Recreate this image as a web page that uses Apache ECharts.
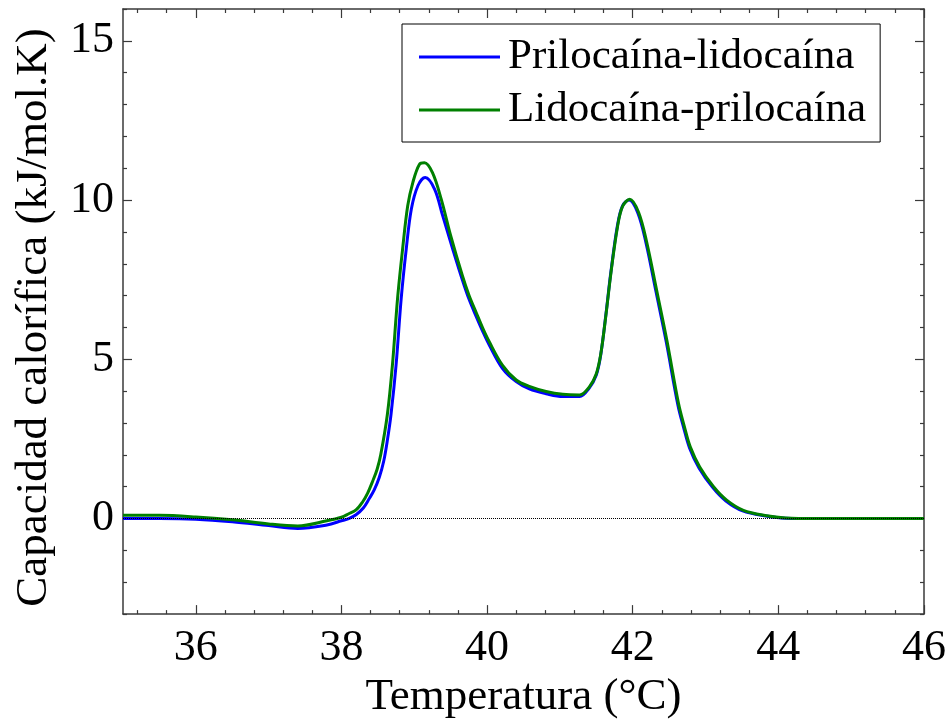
<!DOCTYPE html>
<html>
<head>
<meta charset="utf-8">
<script src="https://cdn.jsdelivr.net/npm/echarts@6/dist/echarts.min.js"></script>
<style>html,body{margin:0;padding:0;background:#fff}#c{width:951px;height:725px}</style>
</head>
<body>
<div id="c"></div>
<script>
const seriesNames = ['Prilocaína-lidocaína', 'Lidocaína-prilocaína'];
const tempBlue = [35.0, 35.5, 36.0, 36.5, 37.0, 37.4, 37.8, 38.0, 38.1, 38.2, 38.3, 38.38, 38.45, 38.52, 38.58, 38.63, 38.68, 38.75, 38.82, 38.89, 38.96, 39.05, 39.15, 39.28, 39.39, 39.53, 39.66, 39.75, 39.85, 39.94, 40.03, 40.21, 40.4, 40.58, 40.81, 41.04, 41.27, 41.4, 41.5, 41.56, 41.63, 41.7, 41.79, 41.86, 41.95, 42.07, 42.18, 42.32, 42.46, 42.62, 42.7, 42.78, 42.91, 43.1, 43.28, 43.51, 43.83, 44.1, 44.5, 45.0, 45.5, 46.0];
const cpBlue = [0.0, 0.0, -0.02, -0.1, -0.22, -0.31, -0.2, -0.07, 0.0, 0.12, 0.33, 0.62, 0.9, 1.3, 1.8, 2.45, 3.26, 4.82, 6.9, 8.47, 9.72, 10.45, 10.71, 10.34, 9.51, 8.45, 7.5, 6.9, 6.35, 5.88, 5.45, 4.72, 4.3, 4.07, 3.92, 3.83, 3.83, 4.09, 4.51, 5.13, 6.38, 7.74, 9.2, 9.82, 10.0, 9.6, 8.68, 7.12, 5.55, 3.57, 2.85, 2.22, 1.59, 0.97, 0.55, 0.24, 0.08, 0.01, 0.0, 0.0, 0.0, 0.0];
const tempGreen = [35.0, 35.5, 36.0, 36.5, 37.0, 37.4, 37.8, 38.0, 38.1, 38.2, 38.29, 38.36, 38.43, 38.49, 38.54, 38.63, 38.7, 38.77, 38.84, 38.91, 38.98, 39.07, 39.14, 39.25, 39.37, 39.5, 39.66, 39.75, 39.85, 39.94, 40.03, 40.21, 40.4, 40.58, 40.81, 41.04, 41.27, 41.4, 41.5, 41.56, 41.63, 41.7, 41.79, 41.86, 41.96, 42.08, 42.19, 42.33, 42.47, 42.63, 42.71, 42.79, 42.92, 43.11, 43.29, 43.52, 43.84, 44.1, 44.5, 45.0, 45.5, 46.0];
const cpGreen = [0.1, 0.1, 0.05, -0.04, -0.17, -0.23, -0.07, 0.04, 0.15, 0.27, 0.52, 0.8, 1.18, 1.55, 2.01, 3.26, 4.82, 6.9, 8.47, 9.82, 10.55, 11.12, 11.17, 10.86, 10.03, 8.88, 7.63, 7.02, 6.47, 5.98, 5.55, 4.82, 4.35, 4.15, 3.99, 3.9, 3.88, 4.12, 4.55, 5.15, 6.35, 7.7, 9.15, 9.8, 10.03, 9.62, 8.7, 7.15, 5.58, 3.6, 2.88, 2.25, 1.62, 1.0, 0.58, 0.26, 0.09, 0.02, 0.0, 0.0, 0.0, 0.0];
const xMajorTicks = [36, 38, 40, 42, 44, 46];
const xMinorTicks = [35.2, 35.6, 36.4, 36.8, 37.2, 37.6, 38.4, 38.8, 39.2, 39.6, 40.4, 40.8, 41.2, 41.6, 42.4, 42.8, 43.2, 43.6, 44.4, 44.8, 45.2, 45.6];
const yMajorTicks = [0, 5, 10, 15];
const yMinorTicks = [-3, -2, -1, 1, 2, 3, 4, 6, 7, 8, 9, 11, 12, 13, 14, 16];

const FONT = 'Liberation Serif';
const AX = '#3a3a3a';
const X_MIN = 35, X_MAX = 46, Y_MIN = -3, Y_MAX = 16;

function xAx(pos, ticks, len, main) {
  return {
    type: 'value', position: pos, min: X_MIN, max: X_MAX,
    name: main ? 'Temperatura (°C)' : '', nameLocation: 'middle', nameGap: 51,
    nameTextStyle: { fontFamily: FONT, fontSize: 45, color: '#000' },
    axisLine: { show: main !== null, onZero: false, lineStyle: { color: AX, width: 1.5 } },
    axisTick: { show: true, inside: true, length: len, customValues: ticks, lineStyle: { color: AX, width: 1.2 } },
    axisLabel: main ? { show: true, customValues: xMajorTicks, margin: 12, fontFamily: FONT, fontSize: 44, color: '#000' } : { show: false },
    splitLine: { show: false }
  };
}
function yAx(pos, ticks, len, main) {
  return {
    type: 'value', position: pos, min: Y_MIN, max: Y_MAX,
    name: main ? 'Capacidad calorífica (kJ/mol.K)' : '', nameLocation: 'middle', nameGap: 66,
    nameTextStyle: { fontFamily: FONT, fontSize: 45, color: '#000', padding: [0, 12, 0, 0] },
    axisLine: { show: main !== null, onZero: false, lineStyle: { color: AX, width: 1.5 } },
    axisTick: { show: true, inside: true, length: len, customValues: ticks, lineStyle: { color: AX, width: 1.2 } },
    axisLabel: main ? { show: true, customValues: yMajorTicks, margin: 9, fontFamily: FONT, fontSize: 44, color: '#000' } : { show: false },
    splitLine: { show: false }
  };
}

const chart = echarts.init(document.getElementById('c'), null, { renderer: 'canvas' });
chart.setOption({
  animation: false,
  backgroundColor: '#fff',
  grid: { left: 123, right: 27, top: 9, bottom: 107, containLabel: false },
  legend: {
    orient: 'vertical', left: 402, top: 24,
    padding: [11, 14, 10, 17], itemGap: 9,
    borderColor: '#000', borderWidth: 1, backgroundColor: '#fff',
    icon: 'rect', itemWidth: 81, itemHeight: 3,
    textStyle: { fontFamily: FONT, fontSize: 43, lineHeight: 44, color: '#000', padding: [0, 0, 0, 3] },
    data: seriesNames
  },
  xAxis: [
    xAx('bottom', xMajorTicks, 9, true),
    xAx('bottom', xMinorTicks, 4, null),
    xAx('top', xMajorTicks, 9, false),
    xAx('top', xMinorTicks, 4, null)
  ],
  yAxis: [
    yAx('left', yMajorTicks, 9, true),
    yAx('left', yMinorTicks, 4, null),
    yAx('right', yMajorTicks, 9, false),
    yAx('right', yMinorTicks, 4, null)
  ],
  series: [
    {
      name: seriesNames[0], type: 'line', xAxisIndex: 0, yAxisIndex: 0,
      data: tempBlue.map((t, i) => [t, cpBlue[i]]),
      showSymbol: false, smooth: 0.35, color: '#0000ff',
      lineStyle: { width: 3, color: '#0000ff' }, z: 3
    },
    {
      name: seriesNames[1], type: 'line', xAxisIndex: 0, yAxisIndex: 0,
      data: tempGreen.map((t, i) => [t, cpGreen[i]]),
      showSymbol: false, smooth: 0.35, color: '#008000',
      lineStyle: { width: 3, color: '#008000' }, z: 4,
      markLine: {
        silent: true, symbol: ['none', 'none'], label: { show: false },
        lineStyle: { type: 'dotted', color: '#000', width: 1 },
        data: [{ yAxis: 0 }], z: 5
      }
    }
  ]
});
</script>
</body>
</html>
